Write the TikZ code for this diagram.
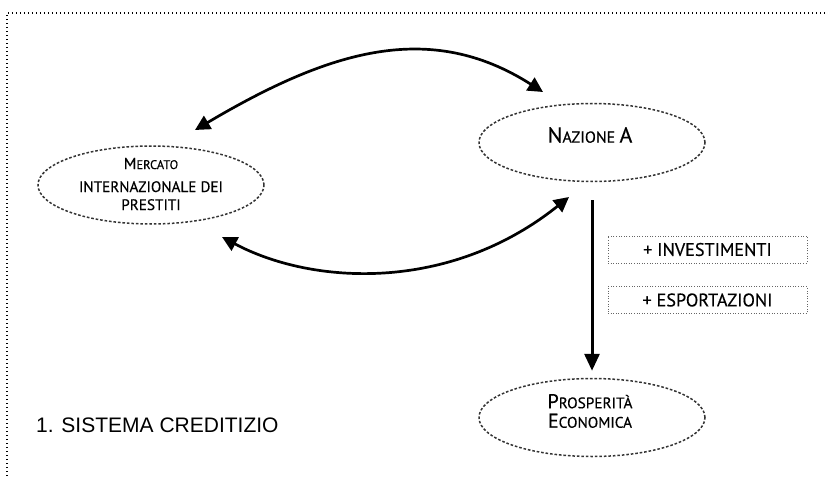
\documentclass[tikz,border=0pt]{standalone}
\usepackage{fontspec}
\setmainfont{Liberation Sans}
\newfontfamily\gil[FakeBold=0.4]{PT Sans}
\usetikzlibrary{shapes.geometric,arrows.meta}
\newcommand\fs[2]{\fontsize{#1}{#2}\selectfont}
\tikzset{
  framedots/.style={line width=1.4pt,dash pattern=on 1.3pt off 2.7pt,black},
  ell/.style={ellipse,draw=black!80,line width=1.5pt,dash pattern=on 2.6pt off 1.9pt,
    minimum width=226pt,minimum height=78pt,inner sep=0pt},
  lbl/.style={inner sep=0pt,align=center},
  boxd/.style={rectangle,draw=black!60,line width=0.8pt,dash pattern=on 1pt off 1.6pt,
    minimum width=199pt,minimum height=27pt,inner sep=0pt,font=\gil\fs{18.2}{20}},
  arr/.style={line width=2.7pt,black,{Triangle[length=15pt,width=15pt]}-{Triangle[length=15pt,width=15pt]}},
  arrd/.style={line width=3pt,black,-{Triangle[length=17pt,width=15pt]}},
  title/.style={anchor=west,inner sep=0pt,font=\fs{21}{24}}
}
\begin{document}
\begin{tikzpicture}[x=1pt,y=-1pt]
\useasboundingbox (0,0) rectangle (826,476);
\draw[framedots] (7,476) -- (7,13) -- (826,13);
\node[ell] (merc) at (151,185) {};
\node[ell] (naz) at (592,142.5) {};
\node[ell] (pros) at (592,417.5) {};
\node[lbl,font=\gil\fs{15.2}{18}] (merct) at (151,184) {{\fs{16}{18}M}{\fs{12.5}{18}ERCATO}\\[5pt]
  INTERNAZIONALE DEI\\PRESTITI};
\node[lbl,font=\gil\fs{22}{22}] (nazt) at (590,135) {N{\fs{16}{22}AZIONE }A};
\node[lbl,font=\gil\fs{20}{19.5}] (prost) at (590,411) {P{\fs{15.3}{19.5}ROSPERITÀ}\\E{\fs{15.3}{19.5}CONOMICA}};
\node[boxd] (inv) at (707.5,249.5) {+ INVESTIMENTI};
\node[boxd] (esp) at (707.5,300) {+ ESPORTAZIONI};
\node[title] (tit) at (36,425) {1. SISTEMA CREDITIZIO};
\coordinate (a1) at ([shift={(44,-55)}]merc.center);
\coordinate (a2) at ([shift={(-49,-50.5)}]naz.center);
\coordinate (b1) at ([shift={(71,52)}]merc.center);
\coordinate (b2) at ([shift={(-23,54.5)}]naz.center);
\draw[arr] (a1) .. controls (330,50) and (430,20) .. (a2);
\draw[arr] (b1) .. controls (312,285) and (449,293) .. (b2);
\draw[arrd,shorten <=18pt,shorten >=7pt] (naz.south) -- (pros.north);
\end{tikzpicture}
\end{document}
